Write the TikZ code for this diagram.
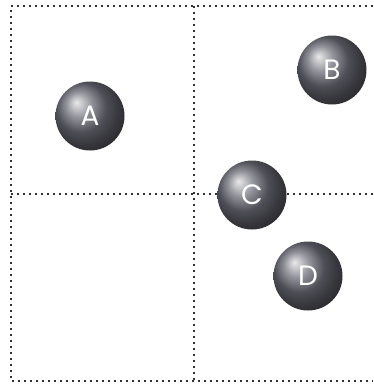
\documentclass[tikz,border=0pt]{standalone}
\usepackage{fontspec}
\newfontfamily\ballfont{Poppins}
\begin{document}
\begin{tikzpicture}[x=1pt,y=-1pt,
  grid/.style={draw=black!80, line width=2pt, dash pattern=on 1.8pt off 4.2pt},
  ball/.style={circle, minimum size=69pt, inner sep=0pt, shading=ball, ball color=black!60!blue!12!gray, text=white, font=\ballfont\fontsize{28}{28}\selectfont}]
\useasboundingbox (0,0) rectangle (373,386);
\fill[white] (0,0) rectangle (373,386);
\draw[grid] (373,6) -- (11,6) -- (11,381) -- (373,381);
\draw[grid] (194,6) -- (194,381);
\draw[grid] (11,194) -- (373,194);
\node[ball] (A) at (90,116) {A};
\node[ball] (B) at (332,70) {B};
\node[ball] (C) at (252,195) {C};
\node[ball] (D) at (308,276) {D};
\end{tikzpicture}
\end{document}
